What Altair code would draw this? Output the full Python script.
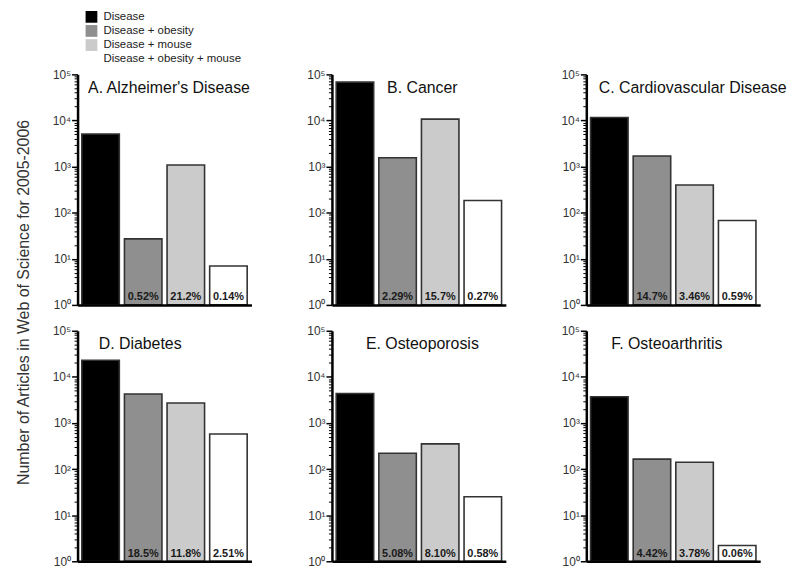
import altair as alt
import pandas as pd

# ---------------- data ----------------
panel_titles = [
    "A. Alzheimer's Disease",
    "B. Cancer",
    "C. Cardiovascular Disease",
    "D. Diabetes",
    "E. Osteoporosis",
    "F. Osteoarthritis",
]
categories = [
    "Disease",
    "Disease + obesity",
    "Disease + mouse",
    "Disease + obesity + mouse",
]
counts_A = [5100, 27, 1080, 7]
counts_B = [68000, 1560, 10700, 184]
counts_C = [11600, 1700, 400, 68]
counts_D = [23000, 4250, 2710, 577]
counts_E = [4340, 220, 352, 25]
counts_F = [3700, 164, 140, 2.2]

pcts_A = ["", "0.52%", "21.2%", "0.14%"]
pcts_B = ["", "2.29%", "15.7%", "0.27%"]
pcts_C = ["", "14.7%", "3.46%", "0.59%"]
pcts_D = ["", "18.5%", "11.8%", "2.51%"]
pcts_E = ["", "5.08%", "8.10%", "0.58%"]
pcts_F = ["", "4.42%", "3.78%", "0.06%"]

major_ticks = [1, 10, 100, 1000, 10000, 100000]
minor_ticks = [m * 10 ** k for k in range(5) for m in range(2, 10)]

y_title = "Number of Articles in Web of Science for 2005-2006"

all_counts = [counts_A, counts_B, counts_C, counts_D, counts_E, counts_F]
all_pcts = [pcts_A, pcts_B, pcts_C, pcts_D, pcts_E, pcts_F]

# ---------------- style / layout ----------------
colors = ["#000000", "#8f8f8f", "#cbcbcb", "#ffffff"]
FONT = "Liberation Sans"
W, H = 175, 232
title_cx = [92, 91, 107, 63, 91, 81]
title_base = [19, 19, 19, 18, 18, 18]

is_major = "abs(log(datum.value)/LN10 - round(log(datum.value)/LN10)) < 0.001"
label_expr = ("(" + is_major + ") ? '10' + ['\u2070','\u00b9','\u00b2','\u00b3','\u2074','\u2075']"
              "[round(log(datum.value)/LN10)] : ''")
y_scale = alt.Scale(type="log", domain=[1, 100000])
y_axis = alt.Axis(
    title=None, values=sorted(major_ticks + minor_ticks), labelExpr=label_expr,
    labelOverlap=False, labelPadding=1, grid=False, ticks=True,
    tickColor="#000000", tickOpacity=1, zindex=1,
    tickSize={"condition": {"test": is_major, "value": 6}, "value": 3.5},
    tickWidth={"condition": {"test": is_major, "value": 1.5}, "value": 1},
)


def panel(i):
    df = pd.DataFrame({"category": categories, "count": all_counts[i],
                       "pct": all_pcts[i]})
    x_enc = alt.X("category:N", sort=categories,
                  scale=alt.Scale(paddingInner=0.12, paddingOuter=0.1),
                  axis=alt.Axis(title=None, labels=False, ticks=False, zindex=1))
    bars = alt.Chart(df).mark_bar(stroke="#333333", strokeWidth=1.6).encode(
        x=x_enc,
        y=alt.Y("count:Q", scale=y_scale, axis=y_axis),
        y2=alt.datum(1),
        color=alt.Color("category:N", scale=alt.Scale(domain=categories, range=colors),
                        legend=None),
    )
    labels = alt.Chart(df).mark_text(
        font=FONT, fontSize=11, fontWeight="bold", color="#1a1a1a",
        baseline="alphabetic", dy=-4.5
    ).encode(
        x=alt.X("category:N", sort=categories),
        y=alt.datum(1),
        text="pct:N",
    )
    title = alt.Chart(pd.DataFrame({"t": [panel_titles[i]]})).mark_text(
        font=FONT, fontSize=16, color="#111111", align="center", baseline="alphabetic"
    ).encode(
        text="t:N",
        x=alt.value(title_cx[i]),
        y=alt.value(title_base[i]),
    )
    return alt.layer(bars, labels, title).properties(width=W, height=H)


legend_df = pd.DataFrame({"category": categories})
leg_y = alt.Y("category:N", sort=categories, axis=None,
              scale=alt.Scale(type="point", padding=0.5))
leg_sq = alt.Chart(legend_df).mark_point(
    shape="square", filled=True, size=140, opacity=1, strokeWidth=0
).encode(
    y=leg_y,
    x=alt.value(14),
    color=alt.Color("category:N", scale=alt.Scale(domain=categories, range=colors),
                    legend=None),
)
leg_tx = alt.Chart(legend_df).mark_text(
    font=FONT, fontSize=11.5, color="#222222", align="left", baseline="middle"
).encode(
    y=leg_y,
    x=alt.value(26),
    text="category:N",
)
legend = alt.layer(leg_sq, leg_tx).properties(width=W, height=56.8)

grid = alt.concat(*[panel(i) for i in range(6)], columns=3,
                  spacing={"row": 26, "column": 81}, bounds="flush")

chart = alt.vconcat(legend, grid, spacing=2).properties(
    title=alt.TitleParams(
        y_title, orient="left", anchor="middle", font=FONT, fontSize=16,
        fontWeight="normal", color="#333333", offset=20, dx=-14,
    ),
    padding={"left": 8, "top": 0, "right": 5, "bottom": 5},
).configure_view(stroke=None).configure_axis(
    domainColor="black", domainWidth=2.5, tickColor="black",
    labelFont=FONT, labelFontSize=12, labelColor="#333333",
)

chart.save("out.html", embed_options={"renderer": "svg", "actions": False})
